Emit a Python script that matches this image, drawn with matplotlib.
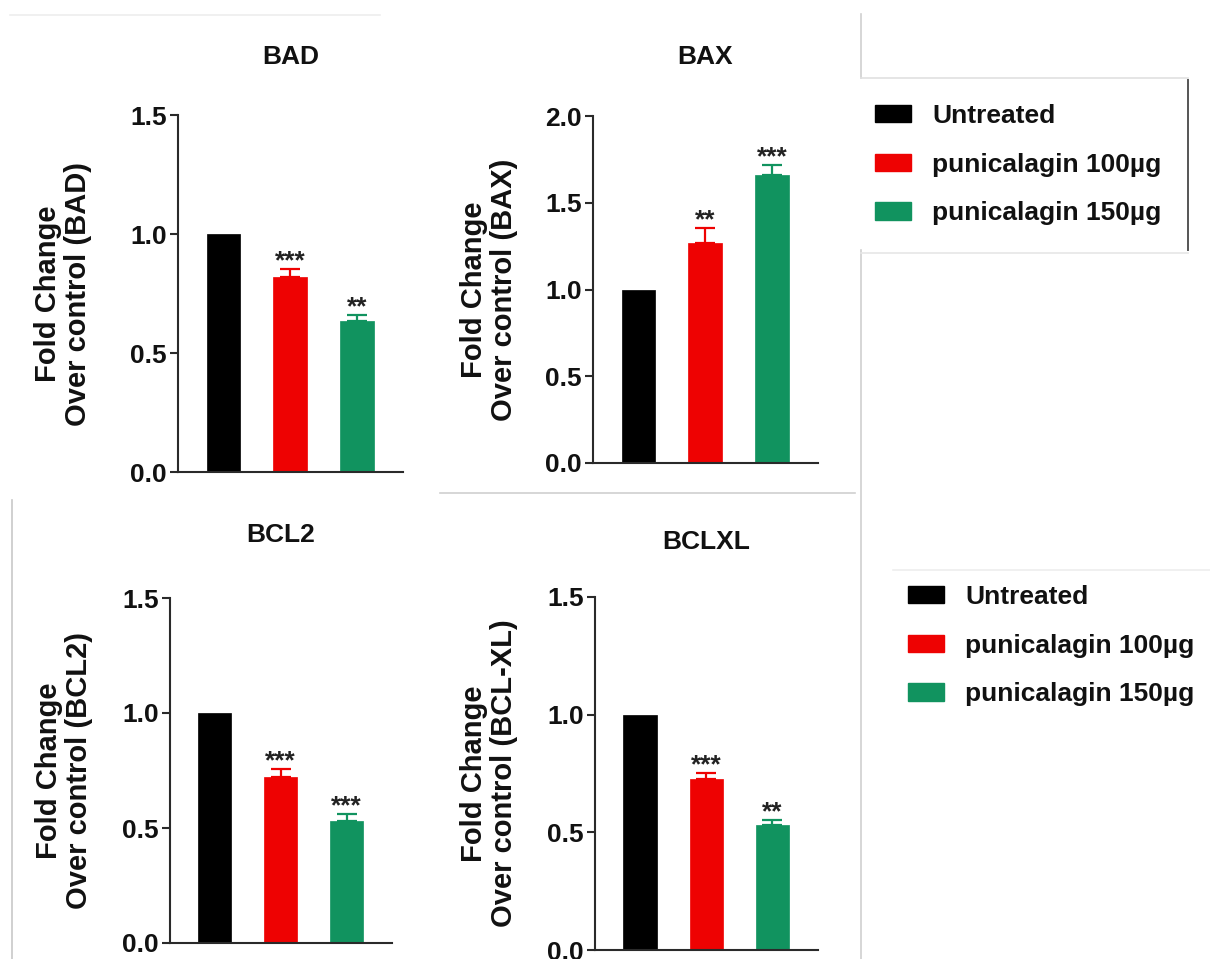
import matplotlib
matplotlib.use("Agg")
import matplotlib.pyplot as plt
from matplotlib.patches import Patch
from matplotlib.lines import Line2D

plt.rcParams['font.family'] = ['Liberation Sans', 'DejaVu Sans']
plt.rcParams['font.weight'] = 'bold'

# ---------------- data ----------------
groups = ['Untreated', 'punicalagin 100µg', 'punicalagin 150µg']
colors = ['#000000', '#EE0202', '#11935F']

genes = ['BAD', 'BAX', 'BCL2', 'BCLXL']
ylabels = ['Fold Change\nOver control (BAD)',
           'Fold Change\nOver control (BAX)',
           'Fold Change\nOver control (BCL2)',
           'Fold Change\nOver control (BCL-XL)']

bad_mean = [1.0, 0.82, 0.635]
bad_err = [0.0, 0.033, 0.025]
bad_stars = ['', '***', '**']

bax_mean = [1.0, 1.27, 1.66]
bax_err = [0.0, 0.085, 0.057]
bax_stars = ['', '**', '***']

bcl2_mean = [1.0, 0.72, 0.53]
bcl2_err = [0.0, 0.035, 0.03]
bcl2_stars = ['', '***', '***']

bclxl_mean = [1.0, 0.728, 0.532]
bclxl_err = [0.0, 0.025, 0.021]
bclxl_stars = ['', '***', '**']

ymax = [1.5, 2.0, 1.5, 1.5]
yticks = [[0, 0.5, 1.0, 1.5], [0, 0.5, 1.0, 1.5, 2.0],
          [0, 0.5, 1.0, 1.5], [0, 0.5, 1.0, 1.5]]
ytick_labels = [['0.0', '0.5', '1.0', '1.5'],
                ['0.0', '0.5', '1.0', '1.5', '2.0'],
                ['0.0', '0.5', '1.0', '1.5'],
                ['0.0', '0.5', '1.0', '1.5']]

means = [bad_mean, bax_mean, bcl2_mean, bclxl_mean]
errs = [bad_err, bax_err, bcl2_err, bclxl_err]
stars = [bad_stars, bax_stars, bcl2_stars, bclxl_stars]

# ---------------- layout (pixels) ----------------
W, H = 1210, 959
fig = plt.figure(figsize=(W / 100, H / 100), dpi=100)

# (left, right, top, bottom) of each axes in pixels
boxes = [(178, 403, 115, 472), (593, 818, 116, 463),
         (170, 392, 598, 943), (595, 818, 597, 950)]
label_off = [-86, -75, -77, -77]      # ylabel right edge offset from axis
title_off = [58, 59, 63, 55]          # title centre above axes top

spine_col = '#2a2a2a'
for i in range(4):
    l, r, t, b = boxes[i]
    ax = fig.add_axes([l / W, 1 - b / H, (r - l) / W, (b - t) / H])
    x = list(range(len(groups)))
    ax.bar(x, means[i], width=0.5, color=colors, edgecolor=colors, linewidth=0.5, zorder=2)
    for j in x:
        if errs[i][j] > 0:
            ax.errorbar(j, means[i][j], yerr=[[0], [errs[i][j]]], fmt='none',
                        ecolor=colors[j], elinewidth=1.6, capsize=7, capthick=1.6, zorder=3)
        if stars[i][j]:
            ax.annotate(stars[i][j], xy=(j, means[i][j] + errs[i][j]),
                        xytext=(0, 0.5), textcoords='offset points',
                        ha='center', va='baseline', fontsize=19,
                        fontweight='bold', color='#222222')
    ax.set_xlim(-0.68, 2.69)
    ax.set_ylim(0, ymax[i])
    ax.set_yticks(yticks[i])
    ax.set_yticklabels(ytick_labels[i], fontsize=19, fontweight='bold', color='#111111')
    ax.set_xticks([])
    for s in ['top', 'right']:
        ax.spines[s].set_visible(False)
    for s in ['left', 'bottom']:
        ax.spines[s].set_color(spine_col)
        ax.spines[s].set_linewidth(1.5)
    ax.tick_params(axis='y', direction='out', length=6, width=1.5,
                   color=spine_col, pad=2)
    ax.set_ylabel(ylabels[i], fontsize=21, fontweight='bold', color='#111111',
                  multialignment='center', linespacing=1.1)
    ax.yaxis.set_label_coords(label_off[i] / (r - l), 0.5)
    ax.annotate(genes[i], xy=(0.5, 1), xycoords='axes fraction',
                xytext=(0, title_off[i] * 0.72), textcoords='offset points',
                ha='center', va='center', fontsize=19, fontweight='bold',
                color='#111111')

# ---------------- legends ----------------
handles = [Patch(facecolor=c, edgecolor=c) for c in colors]
leg_kw = dict(frameon=False, fontsize=19, handlelength=1.36, handleheight=0.64,
              handletextpad=0.8, labelspacing=0.93, borderpad=0,
              borderaxespad=0, loc='upper left')
leg1 = fig.legend(handles, groups, bbox_to_anchor=(875 / W, 1 - 104 / H), **leg_kw)
leg2 = fig.legend(handles, groups, bbox_to_anchor=(908 / W, 1 - 585 / H), **leg_kw)
for leg in (leg1, leg2):
    for t in leg.get_texts():
        t.set_fontweight('bold')
        t.set_color('#111111')

# ---------------- faint screenshot borders ----------------
def pline(xs, ys, color='#d0d0d0', lw=1.2):
    fig.add_artist(Line2D([v / W for v in xs], [1 - v / H for v in ys],
                          color=color, lw=lw))

pline([10, 380], [15, 15], color='#eeeeee')
pline([861, 861], [14, 78])
pline([861, 861], [250, 959])
pline([861, 1188], [78, 78], color='#e0e0e0')
pline([861, 1188], [253, 253], color='#e6e6e6')
pline([1188, 1188], [80, 250], color='#555555', lw=1.4)
pline([440, 855], [493, 493])
pline([12, 12], [500, 959], color='#c8c8c8')
pline([893, 1210], [570, 570], color='#eeeeee')

fig.savefig('out.png', dpi=100)
